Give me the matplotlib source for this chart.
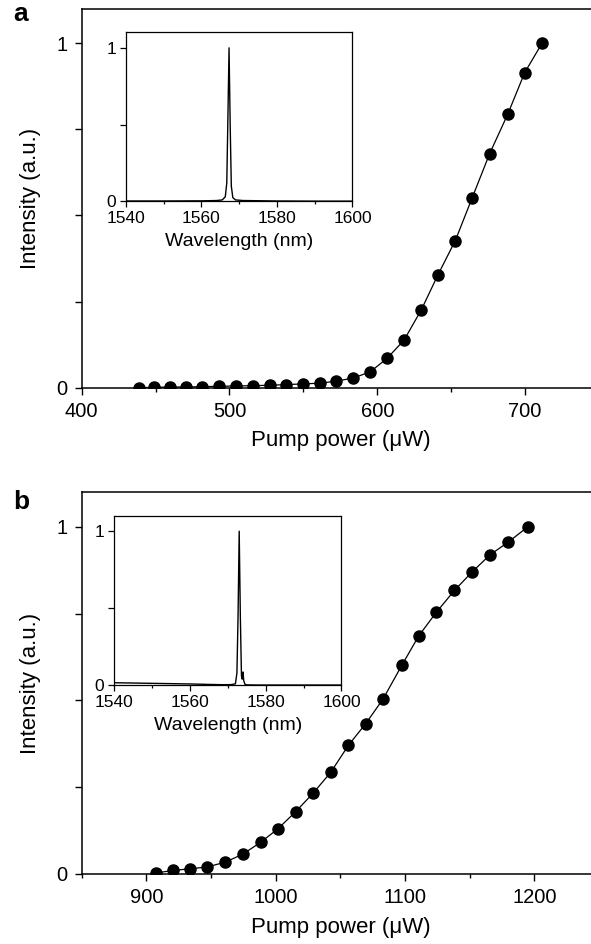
import matplotlib
matplotlib.use("Agg")
import matplotlib.pyplot as plt
from matplotlib.ticker import MultipleLocator

plt.rcParams['font.family'] = ['Liberation Sans', 'DejaVu Sans']

# panel a data
pump_a = [438.5, 448.7, 460.0, 470.4, 481.6, 492.9, 504.6, 516.1, 527.3, 538.5,
          549.7, 561.0, 572.2, 583.7, 595.2, 606.6, 618.1, 629.8, 641.1, 652.8,
          664.3, 676.0, 688.3, 699.7, 711.5]
int_a = [0.0, 0.001, 0.002, 0.002, 0.003, 0.004, 0.005, 0.006, 0.007, 0.009,
         0.011, 0.013, 0.019, 0.028, 0.046, 0.085, 0.138, 0.226, 0.328, 0.427,
         0.552, 0.679, 0.794, 0.914, 1.0]

# inset a spectrum
wl_a = [1540, 1550, 1560, 1564, 1565.5, 1566.3, 1566.7, 1567.0, 1567.3, 1567.6,
        1567.9, 1568.3, 1569.0, 1571, 1580, 1590, 1600]
spec_a = [0.003, 0.003, 0.004, 0.006, 0.01, 0.03, 0.12, 0.55, 1.0, 0.5,
          0.1, 0.025, 0.01, 0.006, 0.003, 0.002, 0.002]

# panel b data
pump_b = [907.3, 920.9, 934.0, 947.0, 961.0, 974.6, 988.3, 1001.7, 1015.6, 1029.0,
          1042.6, 1056.3, 1069.6, 1083.0, 1097.5, 1110.6, 1124.2, 1138.2, 1151.5,
          1165.8, 1179.7, 1194.8]
int_b = [0.003, 0.010, 0.015, 0.020, 0.034, 0.057, 0.091, 0.130, 0.180, 0.233,
         0.293, 0.371, 0.433, 0.504, 0.601, 0.686, 0.754, 0.817, 0.869,
         0.920, 0.956, 1.0]

# inset b spectrum
wl_b = [1540, 1545, 1550, 1555, 1560, 1565, 1569, 1571, 1572.0, 1572.4, 1572.7,
        1573.0, 1573.3, 1573.6, 1573.8, 1574.0, 1574.2, 1574.5, 1575, 1578, 1590, 1600]
spec_b = [0.017, 0.015, 0.013, 0.011, 0.009, 0.006, 0.004, 0.005, 0.01, 0.08, 0.45,
          1.0, 0.45, 0.06, 0.04, 0.087, 0.03, 0.008, 0.003, 0.002, 0.002, 0.002]

fig = plt.figure(figsize=(5.91, 9.44), dpi=100)


def main_panel(rect, x, y, xlim, major, minor):
    ax = fig.add_axes(rect)
    ax.plot(x, y, color='black', lw=0.9, marker='o', ms=8, mfc='black', mec='black')
    ax.set_xlim(*xlim)
    ax.set_ylim(0, 1.1)
    ax.xaxis.set_major_locator(MultipleLocator(major))
    ax.xaxis.set_minor_locator(MultipleLocator(minor))
    ax.set_yticks([0, 0.25, 0.5, 0.75, 1])
    ax.set_yticklabels(['0', '', '', '', '1'])
    ax.tick_params(axis='both', which='major', direction='out', length=5, width=1,
                   labelsize=14.5, pad=5)
    ax.tick_params(axis='x', which='minor', direction='out', length=3, width=1)
    ax.set_xlabel('Pump power (\u03bcW)', fontsize=16, labelpad=7)
    ax.set_ylabel('Intensity (a.u.)', fontsize=16, labelpad=11)
    for s in ax.spines.values():
        s.set_linewidth(1.1)
    return ax


def inset(rect, wl, spec):
    ax = fig.add_axes(rect)
    ax.plot(wl, spec, color='black', lw=1.0)
    ax.set_xlim(1540, 1600)
    ax.set_ylim(0, 1.1)
    ax.xaxis.set_major_locator(MultipleLocator(20))
    ax.xaxis.set_minor_locator(MultipleLocator(10))
    ax.set_yticks([0, 0.5, 1])
    ax.set_yticklabels(['0', '', '1'])
    ax.tick_params(axis='both', which='major', direction='out', length=4, width=0.9,
                   labelsize=12.5, pad=3)
    ax.tick_params(axis='x', which='minor', direction='out', length=2.5, width=0.9)
    ax.set_xlabel('Wavelength (nm)', fontsize=14, labelpad=5)
    for s in ax.spines.values():
        s.set_linewidth(0.9)
    return ax


main_panel([0.1382, 0.5893, 0.8753, 0.4015], pump_a, int_a, (400, 750), 100, 50)
inset([0.2132, 0.7866, 0.3832, 0.179], wl_a, spec_a)

main_panel([0.1382, 0.0742, 0.8753, 0.4043], pump_b, int_b, (850, 1250), 100, 50)
inset([0.1932, 0.2740, 0.3846, 0.1796], wl_b, spec_b)

fig.text(13 / 591, 1 - 21 / 944, 'a', fontsize=19, fontweight='bold', va='baseline')
fig.text(13 / 591, 1 - 509 / 944, 'b', fontsize=19, fontweight='bold', va='baseline')

fig.savefig('out.png', dpi=100)
